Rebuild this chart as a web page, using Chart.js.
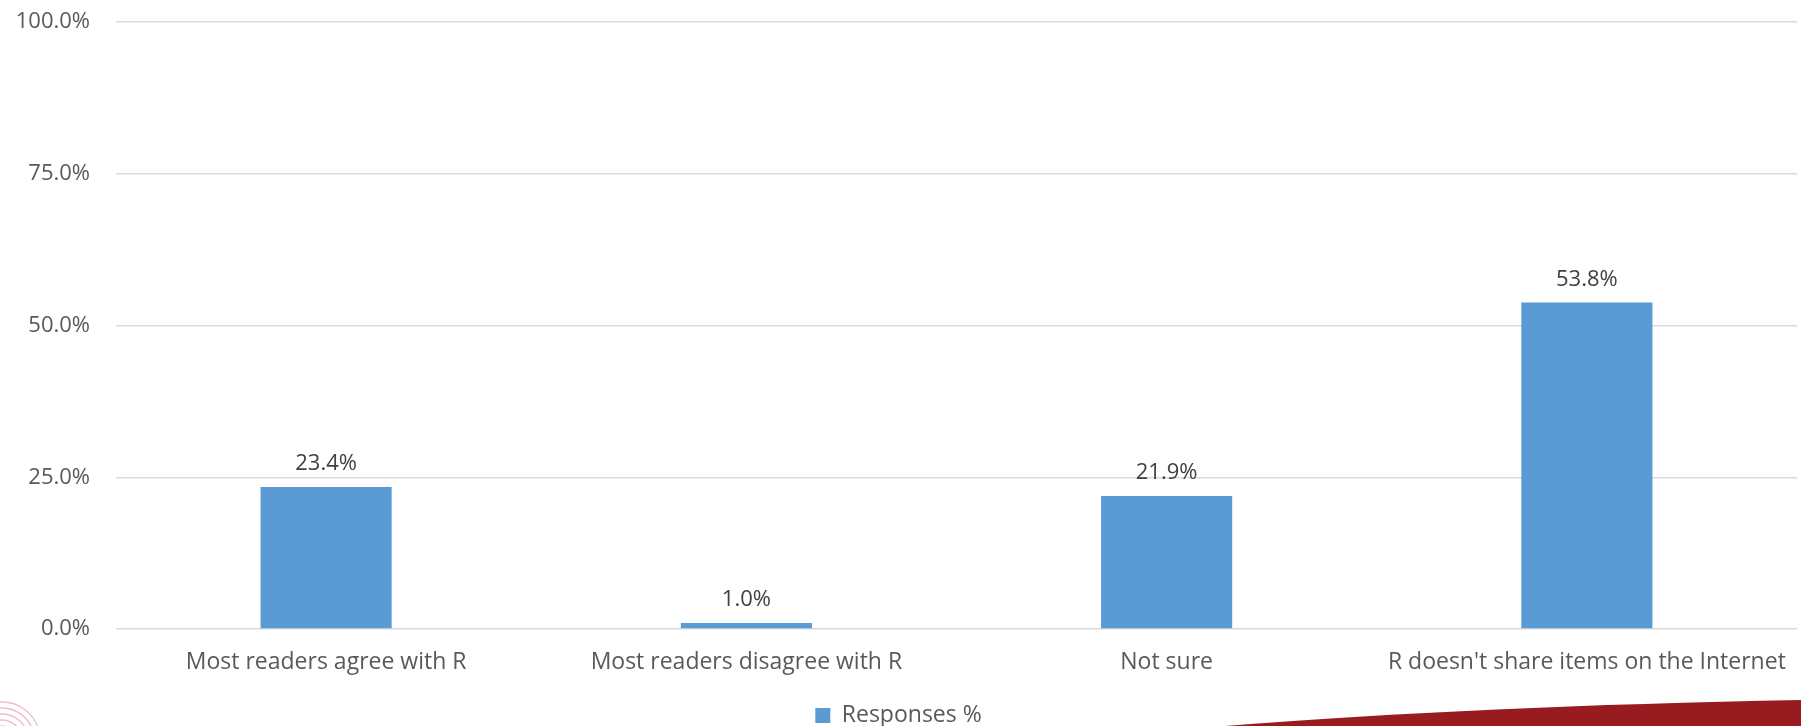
<!DOCTYPE html>
<html>
<head>
<meta charset="utf-8">
<script src="https://cdn.jsdelivr.net/npm/chart.js@4.4.1/dist/chart.umd.min.js"></script>
<style>
  html, body { margin: 0; padding: 0; background: #fff; overflow: hidden; }
  #myGraf { display: block; }
</style>
</head>
<body>
<canvas id="myGraf" width="1801" height="726"></canvas>
<script>
// data
var categories = ["Most readers agree with R", "Most readers disagree with R", "Not sure", "R doesn't share items on the Internet"];
var responses = [23.4, 1.0, 21.9, 53.8];
var yTicks = [0, 25, 50, 75, 100];
var seriesName = "Responses %";

var fontFamily = "'Open Sans', sans-serif";

// value labels above the bars
var barLabels = {
    id: 'barLabels',
    afterDatasetsDraw: function(chart) {
        var ctx = chart.ctx;
        var meta = chart.getDatasetMeta(0);
        ctx.save();
        ctx.font = "22px " + fontFamily;
        ctx.fillStyle = '#404040';
        ctx.textAlign = 'center';
        ctx.textBaseline = 'bottom';
        meta.data.forEach(function(bar, i) {
            ctx.fillText(responses[i].toFixed(1) + '%', bar.x, bar.y - 12);
        });
        ctx.restore();
    }
};

// slide decorations: red swoosh bottom right, faint pink rings bottom left
var decor = {
    id: 'decor',
    afterDraw: function(chart) {
        var ctx = chart.ctx;
        var w = chart.width, h = chart.height;
        ctx.save();
        ctx.fillStyle = '#981B1F';
        ctx.beginPath();
        ctx.moveTo(1225, h);
        ctx.quadraticCurveTo(1480, 706, w, 700);
        ctx.lineTo(w, h);
        ctx.closePath();
        ctx.fill();

        ctx.strokeStyle = 'rgba(214, 60, 130, 0.35)';
        ctx.lineWidth = 1.5;
        for (var r = 8; r <= 40; r += 6) {
            ctx.beginPath();
            ctx.arc(2, 740, r, Math.PI * 1.2, Math.PI * 2);
            ctx.stroke();
        }
        ctx.restore();
    }
};

var ctx = document.getElementById('myGraf').getContext('2d');
var myGraf = new Chart(ctx, {
    type: 'bar',
    data: {
        labels: categories,
        datasets: [{
            label: seriesName,
            data: responses,
            backgroundColor: '#5B9BD5',
            borderWidth: 0,
            categoryPercentage: 1.0,
            barPercentage: 0.312
        }]
    },
    options: {
        responsive: false,
        animation: false,
        devicePixelRatio: 1,
        layout: { padding: { top: 22, right: 4, left: 0, bottom: -11 } },
        plugins: {
            legend: {
                display: true,
                position: 'bottom',
                labels: {
                    boxWidth: 15,
                    boxHeight: 15,
                    padding: 6,
                    color: '#595959',
                    font: { family: fontFamily, size: 23 }
                }
            },
            tooltip: { enabled: false }
        },
        scales: {
            x: {
                grid: { display: false, drawTicks: false },
                border: { display: false },
                ticks: {
                    padding: 20,
                    color: '#595959',
                    maxRotation: 0,
                    autoSkip: false,
                    font: { family: fontFamily, size: 23 }
                },
                afterFit: function(scale) {
                    scale.height = 69;
                    scale.paddingLeft = 0;
                    scale.paddingRight = 0;
                }
            },
            y: {
                min: 0,
                max: 100,
                grid: { color: '#D9D9D9', lineWidth: 1.5, drawTicks: false },
                border: { display: false },
                ticks: {
                    padding: 26,
                    color: '#595959',
                    font: { family: fontFamily, size: 22 },
                    callback: function(v) { return v.toFixed(1) + '%'; }
                },
                afterBuildTicks: function(scale) {
                    scale.ticks = yTicks.map(function(v) { return { value: v }; });
                },
                afterFit: function(scale) {
                    scale.width = 116;
                    scale.paddingTop = 0;
                    scale.paddingBottom = 0;
                }
            }
        }
    },
    plugins: [barLabels, decor]
});
</script>
</body>
</html>
